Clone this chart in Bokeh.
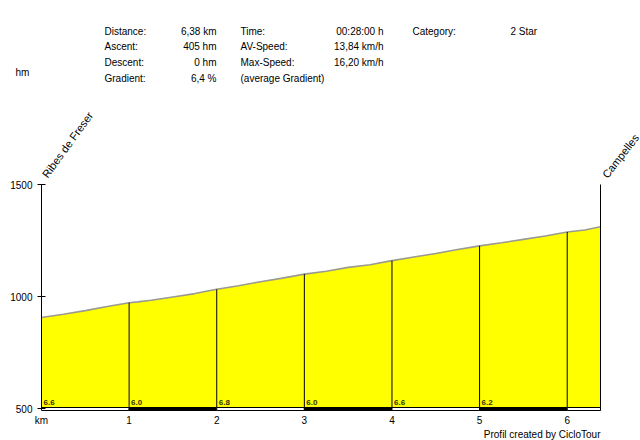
import numpy as np
from bokeh.plotting import figure
from bokeh.models import Range1d, FixedTicker, Label, ColumnDataSource
from bokeh.core.properties import value
from bokeh.embed import file_html
from bokeh.resources import INLINE

# ---------------- data ----------------
dist = [0.0, 0.25, 0.5, 0.75, 1.0, 1.1, 1.25, 1.5, 1.75, 2.0, 2.25, 2.5, 2.75, 3.0,
        3.25, 3.5, 3.75, 4.0, 4.25, 4.5, 4.75, 5.0, 5.25, 5.5, 5.75, 6.0, 6.2, 6.38]
elev = [906, 921, 937, 955, 972, 976, 983, 998, 1013, 1032, 1048, 1066, 1082, 1100,
        1113, 1130, 1142, 1160, 1176, 1192, 1210, 1226, 1240, 1255, 1270, 1288, 1297, 1311]
km_marks = [1, 2, 3, 4, 5, 6]
seg_start = [0, 1, 2, 3, 4, 5]
seg_grad = ["6.6", "6.0", "6.8", "6.0", "6.6", "6.2"]
bar_left = [0, 1, 2, 3, 4, 5, 6]
bar_right = [1, 2, 3, 4, 5, 6, 6.38]
bar_color = ["white", "black", "white", "black", "white", "black", "white"]
y_ticks = [500, 1000, 1500]
x_ticks = [0, 1, 2, 3, 4, 5, 6]
start_name = "Ribes de Freser"
end_name = "Campelles"
info_col1 = ["Distance:", "Ascent:", "Descent:", "Gradient:"]
info_col2 = ["6,38 km", "405 hm", "0 hm", "6,4 %"]
info_col3 = ["Time:", "AV-Speed:", "Max-Speed:", "(average Gradient)"]
info_col4 = ["00:28:00 h", "13,84 km/h", "16,20 km/h"]
info_col5 = ["Category:"]
info_col6 = ["2 Star"]
credit = "Profil created by CicloTour"

# ---------------- layout helpers (screen px -> data) ----------------
W, H = 640, 440
X_END = dist[-1]
FRAME_L, FRAME_R = 41, 640          # plot px
FRAME_T, FRAME_B = 16, 411
PXK = (600 - FRAME_L) / X_END       # 6.38 km ends at px 600
PXM = 0.224
Y500 = 408                           # plot px of 500 m


def dx(px):
    return (px - FRAME_L) / PXK


def dy(py):
    return 500 + (Y500 - py) / PXM


FONT = "Liberation Sans"
BAR_TOP = dy(407)
BAR_BOT = dy(410)

p = figure(width=W, height=H, output_backend="svg", toolbar_location=None,
           x_range=Range1d(0, dx(FRAME_R)), y_range=Range1d(dy(FRAME_B), dy(FRAME_T)),
           min_border_left=FRAME_L, min_border_right=W - FRAME_R,
           min_border_top=FRAME_T, min_border_bottom=H - FRAME_B)
p.outline_line_color = None
p.grid.visible = False
p.background_fill_color = "white"
p.border_fill_color = "white"

# profile fill and line
src = ColumnDataSource(dict(x=dist, y=elev, base=[BAR_TOP] * len(dist)))
p.varea(x="x", y1="base", y2="y", source=src, fill_color="#FFFF00")
p.line(x="x", y="y", source=src, line_color="#9a9a90", line_width=1.6)

# km vertical lines
km_elev = [float(np.interp(k, dist, elev)) for k in km_marks]
p.segment(x0=km_marks, y0=[BAR_TOP] * len(km_marks), x1=km_marks, y1=km_elev,
          line_color="black", line_width=1)
# end marker line
p.segment(x0=[X_END], y0=[BAR_BOT], x1=[X_END], y1=[1500], line_color="black", line_width=1)

# km bar strip
p.quad(left=bar_left, right=bar_right, bottom=[BAR_BOT] * len(bar_left),
       top=[BAR_TOP] * len(bar_left), fill_color=bar_color, line_color="black", line_width=1)

# gradient labels
p.text(x=seg_start, y=[dy(404)] * len(seg_start), text=seg_grad, x_offset=2,
       text_font=value(FONT), text_font_size="8px", text_font_style="bold",
       text_color="#333300", text_align="left", text_baseline="bottom")

# axes
ya = p.yaxis[0]
ya.ticker = FixedTicker(ticks=y_ticks)
ya.bounds = (BAR_BOT, 1500)
ya.major_tick_in = 4
ya.major_tick_out = 4
ya.minor_tick_line_color = None
ya.major_label_standoff = 5
ya.major_label_text_font = FONT
ya.major_label_text_font_size = "10px"
ya.major_label_text_color = "black"
ya.axis_line_color = "black"

xa = p.xaxis[0]
xa.ticker = FixedTicker(ticks=x_ticks)
xa.major_label_overrides = {0: "km"}
xa.axis_line_color = None
xa.major_tick_line_color = None
xa.minor_tick_line_color = None
xa.major_tick_in = 0
xa.major_tick_out = 0
xa.major_label_standoff = 3
xa.major_label_text_font = FONT
xa.major_label_text_font_size = "10px"
xa.major_label_text_color = "black"


def lab(x, y, t, align="left", baseline="middle", size="10px", angle=0.0, place="center"):
    lbl = Label(x=x, y=y, text=t, text_font=FONT, text_font_size=size,
                text_align=align, text_baseline=baseline, text_color="black",
                angle=angle, angle_units="deg")
    if place == "center":
        p.add_layout(lbl)
    else:
        p.add_layout(lbl, place)


rows = [31, 46, 62, 78]
for i, t in enumerate(info_col1):
    lab(dx(104), dy(rows[i]), t)
for i, t in enumerate(info_col2):
    lab(dx(216), dy(rows[i]), t, align="right")
for i, t in enumerate(info_col3):
    lab(dx(240), dy(rows[i]), t)
for i, t in enumerate(info_col4):
    lab(dx(383), dy(rows[i]), t, align="right")
for i, t in enumerate(info_col5):
    lab(dx(412), dy(rows[i]), t)
for i, t in enumerate(info_col6):
    lab(dx(510), dy(rows[i]), t)

lab(dx(15), dy(72), "hm", place="above")
lab(dx(44), dy(176), start_name, size="11px", angle=54)
lab(dx(604), dy(176), end_name, size="11px", angle=52)
lab(dx(600), dy(439), credit, align="right", baseline="bottom", place="below")

open("out.html", "w").write(file_html(p, INLINE))
